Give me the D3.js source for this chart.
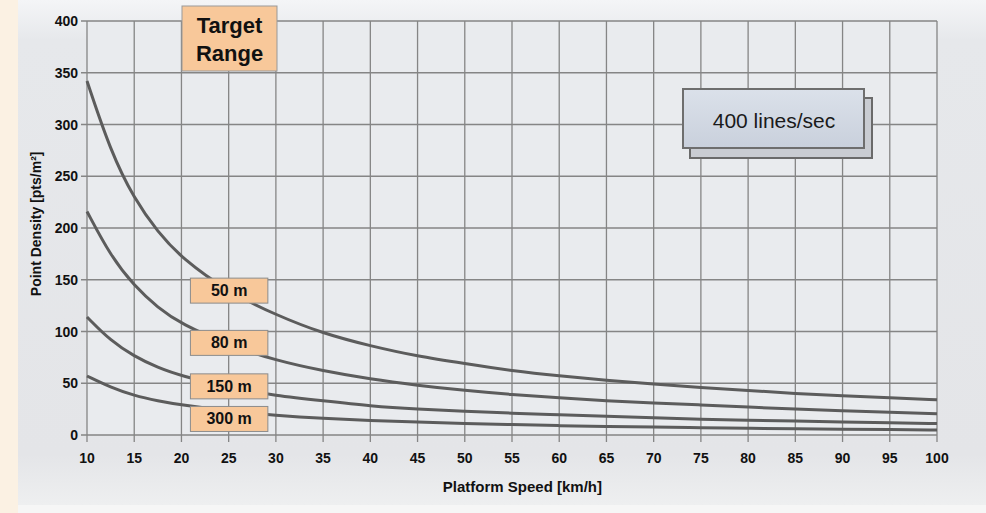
<!DOCTYPE html>
<html>
<head>
<meta charset="utf-8">
<script src="https://cdn.jsdelivr.net/npm/d3@7"></script>
<style>
  html, body { margin: 0; padding: 0; background: #fbf1e3; }
  svg { display: block; }
</style>
</head>
<body>
<div id="chart-area"></div>
<script>
// point density vs platform speed, 400 lines/sec
const speeds = [10, 12.5, 15, 17.5, 20, 25, 30, 35, 40, 45, 50, 55, 60, 65, 70, 75, 80, 85, 90, 95, 100];
const range50 = [342, 274, 228, 196, 171, 138, 116, 98, 86, 76, 69, 62, 57, 53, 49, 46, 43, 40, 38, 36, 34];
const range80 = [216, 173, 144, 123, 107, 87, 72, 62, 54, 48, 43, 39, 36, 33, 31, 29, 27, 25, 23.5, 22, 20.5];
const range150 = [114, 91, 76, 65, 57, 46, 38, 33, 28, 25, 23, 21, 19.5, 18, 16.5, 15.3, 14.3, 13.4, 12.6, 11.8, 11];
const range300 = [57, 46, 38, 33, 29, 23, 19, 16, 14, 12.5, 11.2, 10, 9, 8.3, 7.6, 7, 6.5, 6, 5.6, 5.2, 4.8];
const seriesNames = ["50 m", "80 m", "150 m", "300 m"];
const xTicks = [10, 15, 20, 25, 30, 35, 40, 45, 50, 55, 60, 65, 70, 75, 80, 85, 90, 95, 100];
const yTicks = [0, 50, 100, 150, 200, 250, 300, 350, 400];

const width = 986;
const height = 513;
const margin = {top: 21, right: 49, bottom: 78, left: 87};
const innerWidth = width - margin.left - margin.right;
const innerHeight = height - margin.top - margin.bottom;

const svg = d3.select('#chart-area')
  .append('svg')
  .attr('width', width)
  .attr('height', height);

const defs = svg.append('defs');
const bg = defs.append('linearGradient').attr('id', 'bg').attr('x1', 0).attr('y1', 0).attr('x2', 0).attr('y2', 1);
bg.append('stop').attr('offset', '0%').attr('stop-color', '#f4f5f7');
bg.append('stop').attr('offset', '8%').attr('stop-color', '#e6e8eb');
bg.append('stop').attr('offset', '90%').attr('stop-color', '#e4e5e8');
bg.append('stop').attr('offset', '100%').attr('stop-color', '#eeeff0');

const boxGrad = defs.append('linearGradient').attr('id', 'boxGrad').attr('x1', 0).attr('y1', 0).attr('x2', 0).attr('y2', 1);
boxGrad.append('stop').attr('offset', '0%').attr('stop-color', '#dbe1ea');
boxGrad.append('stop').attr('offset', '100%').attr('stop-color', '#c9d0dc');

// page background
svg.append('rect')
  .attr('x', 18).attr('y', 0)
  .attr('width', width - 18).attr('height', 505)
  .attr('fill', 'url(#bg)');
svg.append('rect')
  .attr('x', 18).attr('y', 505)
  .attr('width', width - 18).attr('height', 8)
  .attr('fill', '#f6f6f6');

const g = svg.append('g')
  .attr('transform', `translate(${margin.left},${margin.top})`);

const x = d3.scaleLinear().domain([10, 100]).range([0, innerWidth]);
const y = d3.scaleLinear().domain([0, 400]).range([innerHeight, 0]);

g.append('rect')
  .attr('width', innerWidth).attr('height', innerHeight)
  .attr('fill', '#e9ebee');

// grid
g.append('g')
  .selectAll('line')
  .data(xTicks)
  .enter().append('line')
  .attr('x1', d => x(d)).attr('x2', d => x(d))
  .attr('y1', 0).attr('y2', innerHeight + 7)
  .attr('stroke', '#858585')
  .attr('stroke-width', 1.3);

g.append('g')
  .selectAll('line')
  .data(yTicks)
  .enter().append('line')
  .attr('x1', -6).attr('x2', innerWidth)
  .attr('y1', d => y(d)).attr('y2', d => y(d))
  .attr('stroke', '#858585')
  .attr('stroke-width', 1.3);

// tick labels
const tickFont = '"Liberation Sans", Arial, sans-serif';
g.append('g')
  .selectAll('text')
  .data(yTicks)
  .enter().append('text')
  .text(d => d)
  .attr('x', -9)
  .attr('y', d => y(d) + 5)
  .attr('text-anchor', 'end')
  .attr('font-family', tickFont)
  .attr('font-weight', 'bold')
  .attr('font-size', '14px')
  .attr('fill', '#111');

g.append('g')
  .selectAll('text')
  .data(xTicks)
  .enter().append('text')
  .text(d => d)
  .attr('x', d => x(d))
  .attr('y', innerHeight + 28)
  .attr('text-anchor', 'middle')
  .attr('font-family', tickFont)
  .attr('font-weight', 'bold')
  .attr('font-size', '14px')
  .attr('fill', '#111');

// axis titles
g.append('text')
  .text('Platform Speed [km/h]')
  .attr('x', x(56.1))
  .attr('y', innerHeight + 57)
  .attr('text-anchor', 'middle')
  .attr('font-family', tickFont)
  .attr('font-weight', 'bold')
  .attr('font-size', '15px')
  .attr('fill', '#111');

g.append('text')
  .text('Point Density [pts/m²]')
  .attr('transform', 'rotate(-90)')
  .attr('x', -(y(204)))
  .attr('y', -46)
  .attr('text-anchor', 'middle')
  .attr('font-family', tickFont)
  .attr('font-weight', 'bold')
  .attr('font-size', '14px')
  .attr('fill', '#111');

// curves
const series = [range50, range80, range150, range300];
const line = d3.line()
  .x((d, i) => x(speeds[i]))
  .y(d => y(d))
  .curve(d3.curveBasis);

g.append('g')
  .selectAll('path')
  .data(series)
  .enter().append('path')
  .attr('d', line)
  .attr('fill', 'none')
  .attr('stroke', '#5c5c5c')
  .attr('stroke-width', 3);

// series labels
const labelY = [139.5, 89, 47, 15.5];
const lab = g.append('g')
  .selectAll('g')
  .data(seriesNames)
  .enter().append('g')
  .attr('transform', (d, i) => `translate(${x(20.95)},${y(labelY[i]) - 12.5})`);

lab.append('rect')
  .attr('width', x(29.15) - x(20.95))
  .attr('height', 25)
  .attr('fill', '#f8c89a')
  .attr('stroke', '#8c8c8c')
  .attr('stroke-width', 1);

lab.append('text')
  .text(d => d)
  .attr('x', (x(29.15) - x(20.95)) / 2)
  .attr('y', 18)
  .attr('text-anchor', 'middle')
  .attr('font-family', tickFont)
  .attr('font-weight', 'bold')
  .attr('font-size', '16px')
  .attr('fill', '#111');

// target range box
const tr = svg.append('g');
tr.append('rect')
  .attr('x', 182).attr('y', 6)
  .attr('width', 95).attr('height', 65)
  .attr('fill', '#f8c89a')
  .attr('stroke', '#999')
  .attr('stroke-width', 1);
tr.append('text')
  .text('Target')
  .attr('x', 229.5).attr('y', 33)
  .attr('text-anchor', 'middle')
  .attr('font-family', tickFont)
  .attr('font-weight', 'bold')
  .attr('font-size', '22px')
  .attr('fill', '#111');
tr.append('text')
  .text('Range')
  .attr('x', 229.5).attr('y', 61)
  .attr('text-anchor', 'middle')
  .attr('font-family', tickFont)
  .attr('font-weight', 'bold')
  .attr('font-size', '22px')
  .attr('fill', '#111');

// 400 lines/sec box with shadow
const lb = svg.append('g');
lb.append('rect')
  .attr('x', 690).attr('y', 98)
  .attr('width', 182).attr('height', 60)
  .attr('fill', '#c9ccd2')
  .attr('stroke', '#6a6a6a')
  .attr('stroke-width', 2);
lb.append('rect')
  .attr('x', 683).attr('y', 89)
  .attr('width', 181).attr('height', 59)
  .attr('fill', 'url(#boxGrad)')
  .attr('stroke', '#6e6e6e')
  .attr('stroke-width', 2);
lb.append('text')
  .text('400 lines/sec')
  .attr('x', 774).attr('y', 128)
  .attr('text-anchor', 'middle')
  .attr('font-family', tickFont)
  .attr('font-size', '21px')
  .attr('fill', '#1a1a1a');
</script>
</body>
</html>
